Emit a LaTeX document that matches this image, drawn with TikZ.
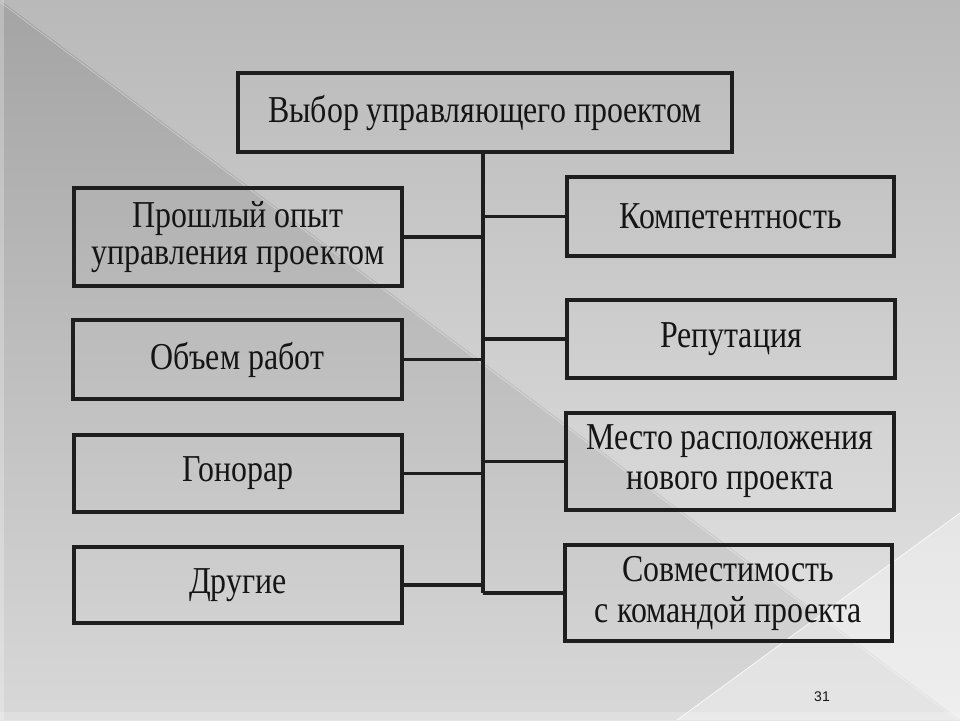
\documentclass[tikz,border=0pt]{standalone}
\usepackage{fontspec}
\setmainfont{Liberation Serif}
\newfontfamily\condfont[FakeStretch=0.84]{Liberation Serif}
\newfontfamily\pgnumfont{Liberation Sans}
\usetikzlibrary{shadings}
\definecolor{lineclr}{HTML}{1E1E1E}
\definecolor{txtclr}{HTML}{151515}
\definecolor{upTop}{HTML}{B9B9B9}
\definecolor{upBot}{HTML}{E6E6E6}
\definecolor{loTop}{HTML}{A4A4A4}
\definecolor{loBot}{HTML}{D8D8D8}
\tikzset{
  boxnode/.style={draw=lineclr, line width=3.6pt, rectangle, inner sep=0pt,
    align=center, text=txtclr, font=\condfont\fontsize{38}{34}\selectfont},
  wire/.style={draw=lineclr, line width=3.2pt},
}
\begin{document}
\begin{tikzpicture}[x=1pt,y=-1pt]
\useasboundingbox (0,0) rectangle (960,720);
% background
\shade[top color=upTop, bottom color=upBot] (0,0) rectangle (960,720);
\shade[top color=loTop, bottom color=loBot] (0,0) -- (960,720) -- (0,720) -- cycle;
\fill[white, opacity=0.35] (677,720) -- (960,513) -- (960,720) -- cycle;
\draw[white, opacity=0.8, line width=0.8pt] (677,720) -- (960,513);
\draw[white, opacity=0.35, line width=0.8pt] (0,2) -- (960,722);
\fill[white, opacity=0.2] (0,712) rectangle (960,720);
\fill[white, opacity=0.25] (0,0) rectangle (4,720);
% boxes
\node[boxnode, minimum width=494, minimum height=79] (top) at (485,112.5) {Выбор управляющего проектом};
\node[boxnode, minimum width=328, minimum height=98, font=\condfont\fontsize{38}{37}\selectfont] (L1) at (238,237) {Прошлый опыт\\управления проектом};
\node[boxnode, minimum width=329, minimum height=79] (L2) at (237.5,359.5) {Объем работ};
\node[boxnode, minimum width=328, minimum height=77] (L3) at (238,473.5) {Гонорар};
\node[boxnode, minimum width=328, minimum height=76] (L4) at (238,585) {Другие};
\node[boxnode, minimum width=327, minimum height=79] (R1) at (730.5,216.5) {Компетентность};
\node[boxnode, minimum width=328, minimum height=78] (R2) at (731,339) {Репутация};
\node[boxnode, minimum width=328, minimum height=97, font=\condfont\fontsize{38}{40}\selectfont] (R3) at (730,461.5) {Место расположения\\нового проекта};
\node[boxnode, minimum width=327, minimum height=96, font=\condfont\fontsize{38}{41}\selectfont] (R4) at (728.5,593) {Совместимость\\с командой проекта};
% trunk
\coordinate (tt) at (483,152);
\coordinate (tb) at (483,593);
\draw[wire] (top.south -| tt) -- (tb);
\draw[wire] (L1.east) -- (L1.east -| tt);
\draw[wire] (L2.east) -- (L2.east -| tt);
\draw[wire] (L3.east) -- (L3.east -| tt);
\draw[wire] (L4.east) -- (L4.east -| tt);
\draw[wire] (R1.west) -- (R1.west -| tt);
\draw[wire] (R2.west) -- (R2.west -| tt);
\draw[wire] (R3.west) -- (R3.west -| tt);
\draw[wire] (R4.west) -- (tb);
% page number
\node[text=txtclr, font=\pgnumfont\fontsize{14}{16}\selectfont] (pg) at (822,697) {31};
\end{tikzpicture}
\end{document}
